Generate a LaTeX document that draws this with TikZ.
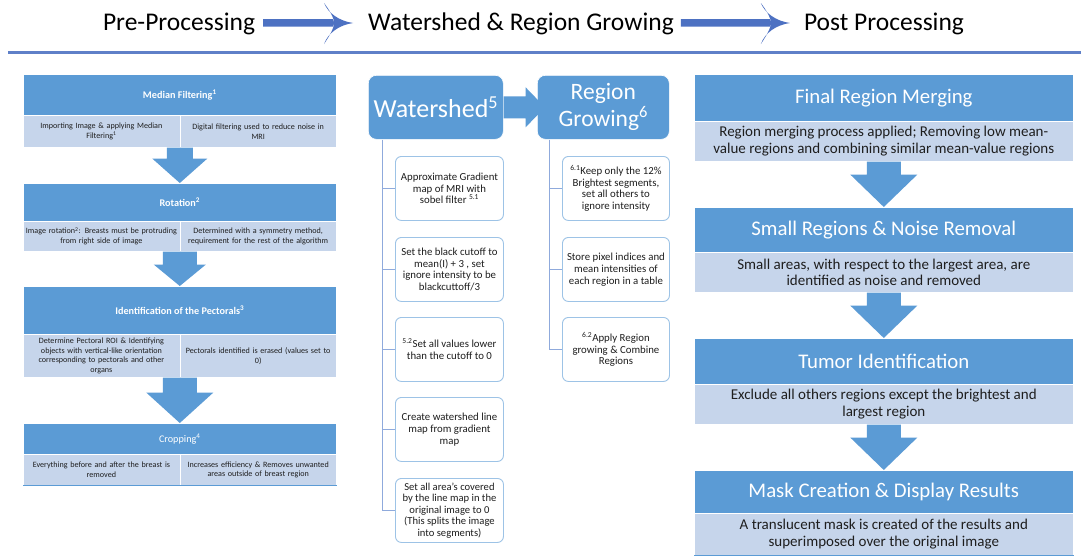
\documentclass[tikz,border=0pt]{standalone}
\usepackage{fontspec}
\setmainfont{Carlito}
\usetikzlibrary{calc}
\definecolor{hdr}{HTML}{5B9BD5}
\definecolor{subc}{HTML}{C6D5EB}
\definecolor{tarrow}{HTML}{4D71C2}
\definecolor{sepc}{HTML}{5F80C8}
\definecolor{treec}{HTML}{8FAADC}
\definecolor{sbord}{HTML}{9DC3E6}
\definecolor{txt}{HTML}{1E1E1E}
\newcommand\DArrow[5]{%
  \fill[hdr] let \p1=(#1.south), \p2=(#2.north) in
    (\x1-#3pt,\y1) -- (\x1+#3pt,\y1) -- (\x1+#3pt,\y1-#5pt) -- (\x1+#4pt,\y1-#5pt)
    -- (\x1,\y2) -- (\x1-#4pt,\y1-#5pt) -- (\x1-#3pt,\y1-#5pt) -- cycle;}
\newcommand\TArrow[4]{%
  \fill[tarrow] let \p1=(#1.east), \p2=(#2.west), \p3=(#1.base) in
    (\x1+#3pt,\y3+11pt) rectangle (\x2-#4pt-19pt,\y3+3.5pt)
    (\x2-#4pt-29pt,\y3+27pt) .. controls (\x2-#4pt-25pt,\y3+17pt) and (\x2-#4pt-14pt,\y3+9pt) .. (\x2-#4pt,\y3+7pt)
    .. controls (\x2-#4pt-14pt,\y3+5pt) and (\x2-#4pt-25pt,\y3-3pt) .. (\x2-#4pt-29pt,\y3-14pt)
    .. controls (\x2-#4pt-23pt,\y3-5pt) and (\x2-#4pt-19pt,\y3+2pt) .. (\x2-#4pt-19pt,\y3+7pt)
    .. controls (\x2-#4pt-19pt,\y3+12pt) and (\x2-#4pt-23pt,\y3+19pt) .. (\x2-#4pt-29pt,\y3+27pt) -- cycle;}
\begin{document}
\begin{tikzpicture}[x=1pt,y=-1pt,
  ttl/.style={inner sep=0pt, anchor=base, font=\fontsize{25.5}{28}\selectfont, text=black},
  lh/.style={draw=white, line width=0.6pt, fill=hdr, text=white, inner sep=0pt, anchor=north west,
    minimum width=313pt, font=\fontsize{10.2}{12}\selectfont\bfseries},
  ls/.style={draw=white, line width=0.6pt, fill=subc, inner sep=0pt, anchor=north west, minimum width=313pt},
  ltxt/.style={text=txt, align=center, text width=155pt, inner sep=0pt, font=\fontsize{8.1}{9.8}\selectfont},
  rh/.style={draw=white, line width=0.6pt, fill=hdr, text=white, inner sep=0pt, anchor=north west,
    minimum width=379pt, font=\fontsize{20.8}{24}\selectfont},
  rs/.style={draw=white, line width=0.6pt, fill=subc, text=txt, inner sep=0pt, anchor=north west,
    minimum width=379pt, align=center, font=\fontsize{15}{16.5}\selectfont},
  bigbox/.style={draw=white, line width=0.6pt, fill=hdr, text=white, rounded corners=8pt, inner sep=0pt,
    anchor=north west, minimum height=64pt, align=center},
  subbox/.style={draw=sbord, line width=0.9pt, fill=white, text=txt, rounded corners=6pt, inner sep=0pt,
    anchor=north west, minimum height=64pt, align=center, font=\fontsize{10.8}{11.8}\selectfont},
  tree/.style={draw=treec, line width=1pt}]
\useasboundingbox (0,0) rectangle (1081,558);
\fill[white] (0,0) rectangle (1081,558);

% ---- titles ----
\node[ttl] (t1) at (179,30) {Pre-Processing};
\node[ttl] (t2) at (521,30) {Watershed \& Region Growing};
\node[ttl] (t3) at (884,30) {Post Processing};
\TArrow{t1}{t2}{8}{15}
\TArrow{t2}{t3}{7}{14}
\draw[sepc, line width=3pt] (8,52) coordinate (sepL) -- (1081,52) coordinate (sepR);

% ---- left column ----
\node[lh, minimum height=41pt] (lh1) at (23,74) {Median Filtering\textsuperscript{1}};
\node[ls, minimum height=32pt] (ls1) at (23,115) {};
\node[lh, minimum height=38pt] (lh2) at (23,183) {Rotation\textsuperscript{2}};
\node[ls, minimum height=30pt] (ls2) at (23,221) {};
\node[lh, minimum height=48pt] (lh3) at (23,286) {Identification of the Pectorals\textsuperscript{3}};
\node[ls, minimum height=43pt] (ls3) at (23,334) {};
\node[lh, minimum height=31pt, font=\fontsize{10.2}{12}\selectfont] (lh4) at (23,423) {Cropping\textsuperscript{4}};
\node[ls, minimum height=31pt] (ls4) at (23,454) {};
\foreach \s in {ls1,ls2,ls3,ls4}{\draw[white, line width=0.6pt] (\s.north) -- (\s.south);}
\draw[hdr, line width=1.5pt] (ls4.south west) -- (ls4.south east);

\node[ltxt] (ls1a) at ($(ls1.west)!0.25!(ls1.east)$) {Importing Image \& applying Median\\Filtering\textsuperscript{1}};
\node[ltxt] (ls1b) at ($(ls1.west)!0.75!(ls1.east)$) {Digital filtering used to reduce noise in\\MRI};
\node[ltxt] (ls2a) at ($(ls2.west)!0.25!(ls2.east)$) {Image rotation\textsuperscript{2}: Breasts must be protruding\\from right side of image};
\node[ltxt] (ls2b) at ($(ls2.west)!0.75!(ls2.east)$) {Determined with a symmetry method,\\requirement for the rest of the algorithm};
\node[ltxt] (ls3a) at ($(ls3.west)!0.25!(ls3.east)$) {Determine Pectoral ROI \& Identifying\\objects with vertical-like orientation\\corresponding to pectorals and other\\organs};
\node[ltxt] (ls3b) at ($(ls3.west)!0.75!(ls3.east)$) {Pectorals identified is erased (values set to\\0)};
\node[ltxt] (ls4a) at ($(ls4.west)!0.25!(ls4.east)$) {Everything before and after the breast is\\removed};
\node[ltxt] (ls4b) at ($(ls4.west)!0.75!(ls4.east)$) {Increases efficiency \& Removes unwanted\\areas outside of breast region};

\DArrow{ls1}{lh2}{13}{27.5}{11}
\DArrow{ls2}{lh3}{17}{26}{13}
\DArrow{ls3}{lh4}{17}{33.5}{15}

% ---- middle column ----
\node[bigbox, minimum width=135pt, font=\fontsize{26}{30}\selectfont] (wat) at (368,75) {Watershed\textsuperscript{5}};
\node[bigbox, minimum width=132pt, font=\fontsize{23.5}{27}\selectfont] (reg) at (537,75) {Region\\Growing\textsuperscript{6}};
\fill[hdr] let \p1=(wat.east), \p2=(reg.west) in
  (\x1,\y1+11pt) -- (\x1+22pt,\y1+11pt) -- (\x1+22pt,\y1+20pt) -- (\x2+8pt,\y1) -- (\x1+22pt,\y1-20pt)
  -- (\x1+22pt,\y1-11pt) -- (\x1,\y1-11pt) -- cycle;

\node[subbox, minimum width=108pt] (w1) at (395,156) {Approximate Gradient\\map of MRI with\\sobel filter \textsuperscript{5.1}};
\node[subbox, minimum width=108pt] (w2) at (395,237) {Set the black cutoff to\\mean(I) + 3 , set\\ignore intensity to be\\blackcuttoff/3};
\node[subbox, minimum width=108pt] (w3) at (395,317) {\textsuperscript{5.2}Set all values lower\\than the cutoff to 0};
\node[subbox, minimum width=108pt] (w4) at (395,397) {Create watershed line\\map from gradient\\map};
\node[subbox, minimum width=108pt, font=\fontsize{10.6}{11.5}\selectfont] (w5) at (395,478) {Set all area’s covered\\by the line map in the\\original image to 0\\(This splits the image\\into segments)};
\node[subbox, minimum width=107pt] (r1) at (562,156) {\textsuperscript{6.1}Keep only the 12\%\\Brightest segments,\\set all others to\\ignore intensity};
\node[subbox, minimum width=107pt] (r2) at (562,237) {Store pixel indices and\\mean intensities of\\each region in a table};
\node[subbox, minimum width=107pt] (r3) at (562,317) {\textsuperscript{6.2}Apply Region\\growing \& Combine\\Regions};

\coordinate (wl) at ($(wat.south west)+(14,0)$);
\coordinate (rl) at ($(reg.south west)+(12,0)$);
\draw[tree] (wl) |- (w5.west);
\foreach \n in {w1,w2,w3,w4}{\draw[tree] (wl |- \n.west) -- (\n.west);}
\draw[tree] (rl) |- (r3.west);
\foreach \n in {r1,r2}{\draw[tree] (rl |- \n.west) -- (\n.west);}

% ---- right column ----
\node[rh, minimum height=47pt] (rh1) at (694,74) {Final Region Merging};
\node[rs, minimum height=40pt] (rs1) at (694,121) {Region merging process applied; Removing low mean-\\value regions and combining similar mean-value regions};
\node[rh, minimum height=45pt] (rh2) at (694,207) {Small Regions \& Noise Removal};
\node[rs, minimum height=40pt] (rs2) at (694,252) {Small areas, with respect to the largest area, are\\identified as noise and removed};
\node[rh, minimum height=46pt] (rh3) at (694,338) {Tumor Identification};
\node[rs, minimum height=40pt] (rs3) at (694,384) {Exclude all others regions except the brightest and\\largest region};
\node[rh, minimum height=43pt] (rh4) at (694,470) {Mask Creation \& Display Results};
\node[rs, minimum height=42pt] (rs4) at (694,513) {A translucent mask is created of the results and\\superimposed over the original image};
\draw[hdr, line width=1.5pt] (rs4.south west) -- (rs4.south east);

\DArrow{rs1}{rh2}{17}{33.5}{13}
\DArrow{rs2}{rh3}{17}{33.5}{13}
\DArrow{rs3}{rh4}{17}{33.5}{13}
\end{tikzpicture}
\end{document}
